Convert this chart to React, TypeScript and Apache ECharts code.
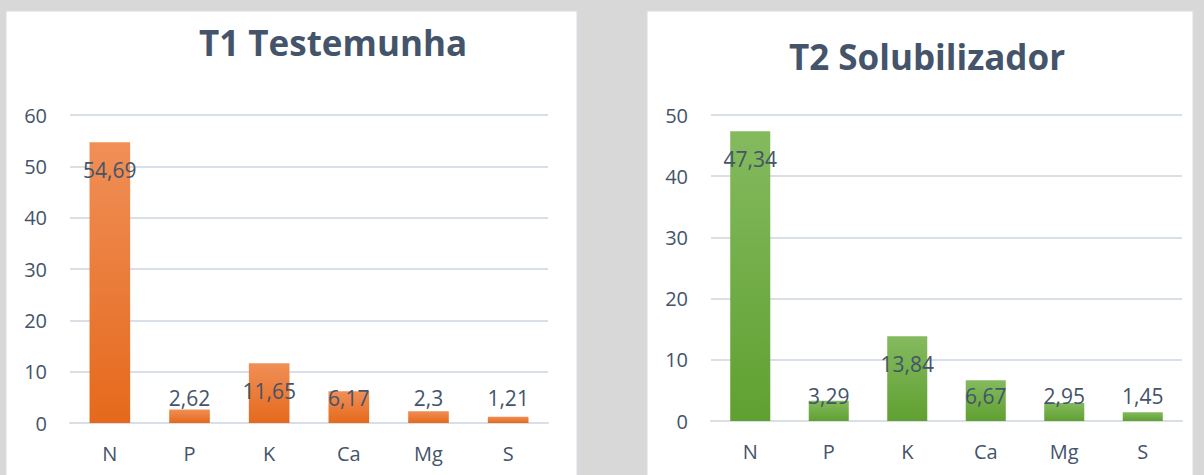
import React, { useEffect, useRef } from "react";
import * as echarts from "echarts";

const categories = ["N", "P", "K", "Ca", "Mg", "S"];
const t1Values = [54.69, 2.62, 11.65, 6.17, 2.3, 1.21];
const t2Values = [47.34, 3.29, 13.84, 6.67, 2.95, 1.45];
const t1Title = "T1 Testemunha";
const t2Title = "T2 Solubilizador";
const t1AxisMax = 60;
const t2AxisMax = 50;
const tickStep = 10;

const FONT = "'Open Sans', 'Noto Sans', sans-serif";
const TEXT = "#44546A";
const GRID_LINE = "#D9DFE7";

const grids = [
  { left: 70, top: 115, width: 478, height: 308 },
  { left: 711, top: 115, width: 471, height: 306 },
];

function fmt(v: number) {
  return String(v).replace(".", ",");
}

function buildData(values: number[], max: number, gridH: number) {
  return values.map((v) => {
    const h = (v / max) * gridH;
    const inside = h >= 53;
    return {
      value: v,
      label: inside
        ? { position: "insideTop", distance: 18 }
        : { position: "insideBottom", distance: 15 },
    };
  });
}

function gradient(top: string, bottom: string) {
  return new echarts.graphic.LinearGradient(0, 0, 0, 1, [
    { offset: 0, color: top },
    { offset: 1, color: bottom },
  ]);
}

export default function App() {
  const ref = useRef<HTMLDivElement>(null);
  useEffect(() => {
    if (!ref.current) return;
    const chart = echarts.init(ref.current, undefined, { renderer: "svg" });
    const xAxisBase = {
      type: "category",
      data: categories,
      axisTick: { show: false },
      axisLine: { show: true, lineStyle: { color: GRID_LINE, width: 2 } },
      axisLabel: { color: TEXT, fontFamily: FONT, fontSize: 20, margin: 20 },
    };
    const yAxisBase = {
      type: "value",
      min: 0,
      interval: tickStep,
      axisLine: { show: false },
      axisTick: { show: false },
      splitLine: { lineStyle: { color: GRID_LINE, width: 2 } },
      axisLabel: { color: TEXT, fontFamily: FONT, fontSize: 20, margin: 23 },
    };
    const labelBase = {
      show: true,
      color: TEXT,
      fontFamily: FONT,
      fontSize: 21,
      lineHeight: 20,
      formatter: (p: any) => fmt(p.value),
    };
    chart.setOption({
      animation: false,
      backgroundColor: "#D8D8D8",
      graphic: [
        {
          type: "rect",
          shape: { x: 6, y: 11, width: 571, height: 480 },
          style: { fill: "#FFFFFF", stroke: "#D6DCE4", lineWidth: 1 },
          z: -10,
        },
        {
          type: "rect",
          shape: { x: 647, y: 11, width: 546, height: 480 },
          style: { fill: "#FFFFFF", stroke: "#D6DCE4", lineWidth: 1 },
          z: -10,
        },
        {
          type: "text",
          x: 333,
          y: 42,
          style: {
            text: t1Title,
            fill: TEXT,
            font: `bold 35px ${FONT}`,
            textAlign: "center",
            textVerticalAlign: "middle",
          },
        },
        {
          type: "text",
          x: 927,
          y: 56,
          style: {
            text: t2Title,
            fill: TEXT,
            font: `bold 35px ${FONT}`,
            textAlign: "center",
            textVerticalAlign: "middle",
          },
        },
      ],
      grid: grids,
      xAxis: [
        { ...xAxisBase, gridIndex: 0 },
        { ...xAxisBase, gridIndex: 1 },
      ],
      yAxis: [
        { ...yAxisBase, gridIndex: 0, max: t1AxisMax },
        { ...yAxisBase, gridIndex: 1, max: t2AxisMax },
      ],
      series: [
        {
          type: "bar",
          xAxisIndex: 0,
          yAxisIndex: 0,
          barWidth: "51%",
          data: buildData(t1Values, t1AxisMax, grids[0].height),
          itemStyle: { color: gradient("#F08F57", "#E5691C") },
          label: labelBase,
        },
        {
          type: "bar",
          xAxisIndex: 1,
          yAxisIndex: 1,
          barWidth: "51%",
          data: buildData(t2Values, t2AxisMax, grids[1].height),
          itemStyle: { color: gradient("#84BA5E", "#60A031") },
          label: labelBase,
        },
      ],
    });
    return () => chart.dispose();
  }, []);
  return (
    <div
      ref={ref}
      style={{ position: "absolute", left: 0, top: 0, width: 1204, height: 475 }}
    />
  );
}
